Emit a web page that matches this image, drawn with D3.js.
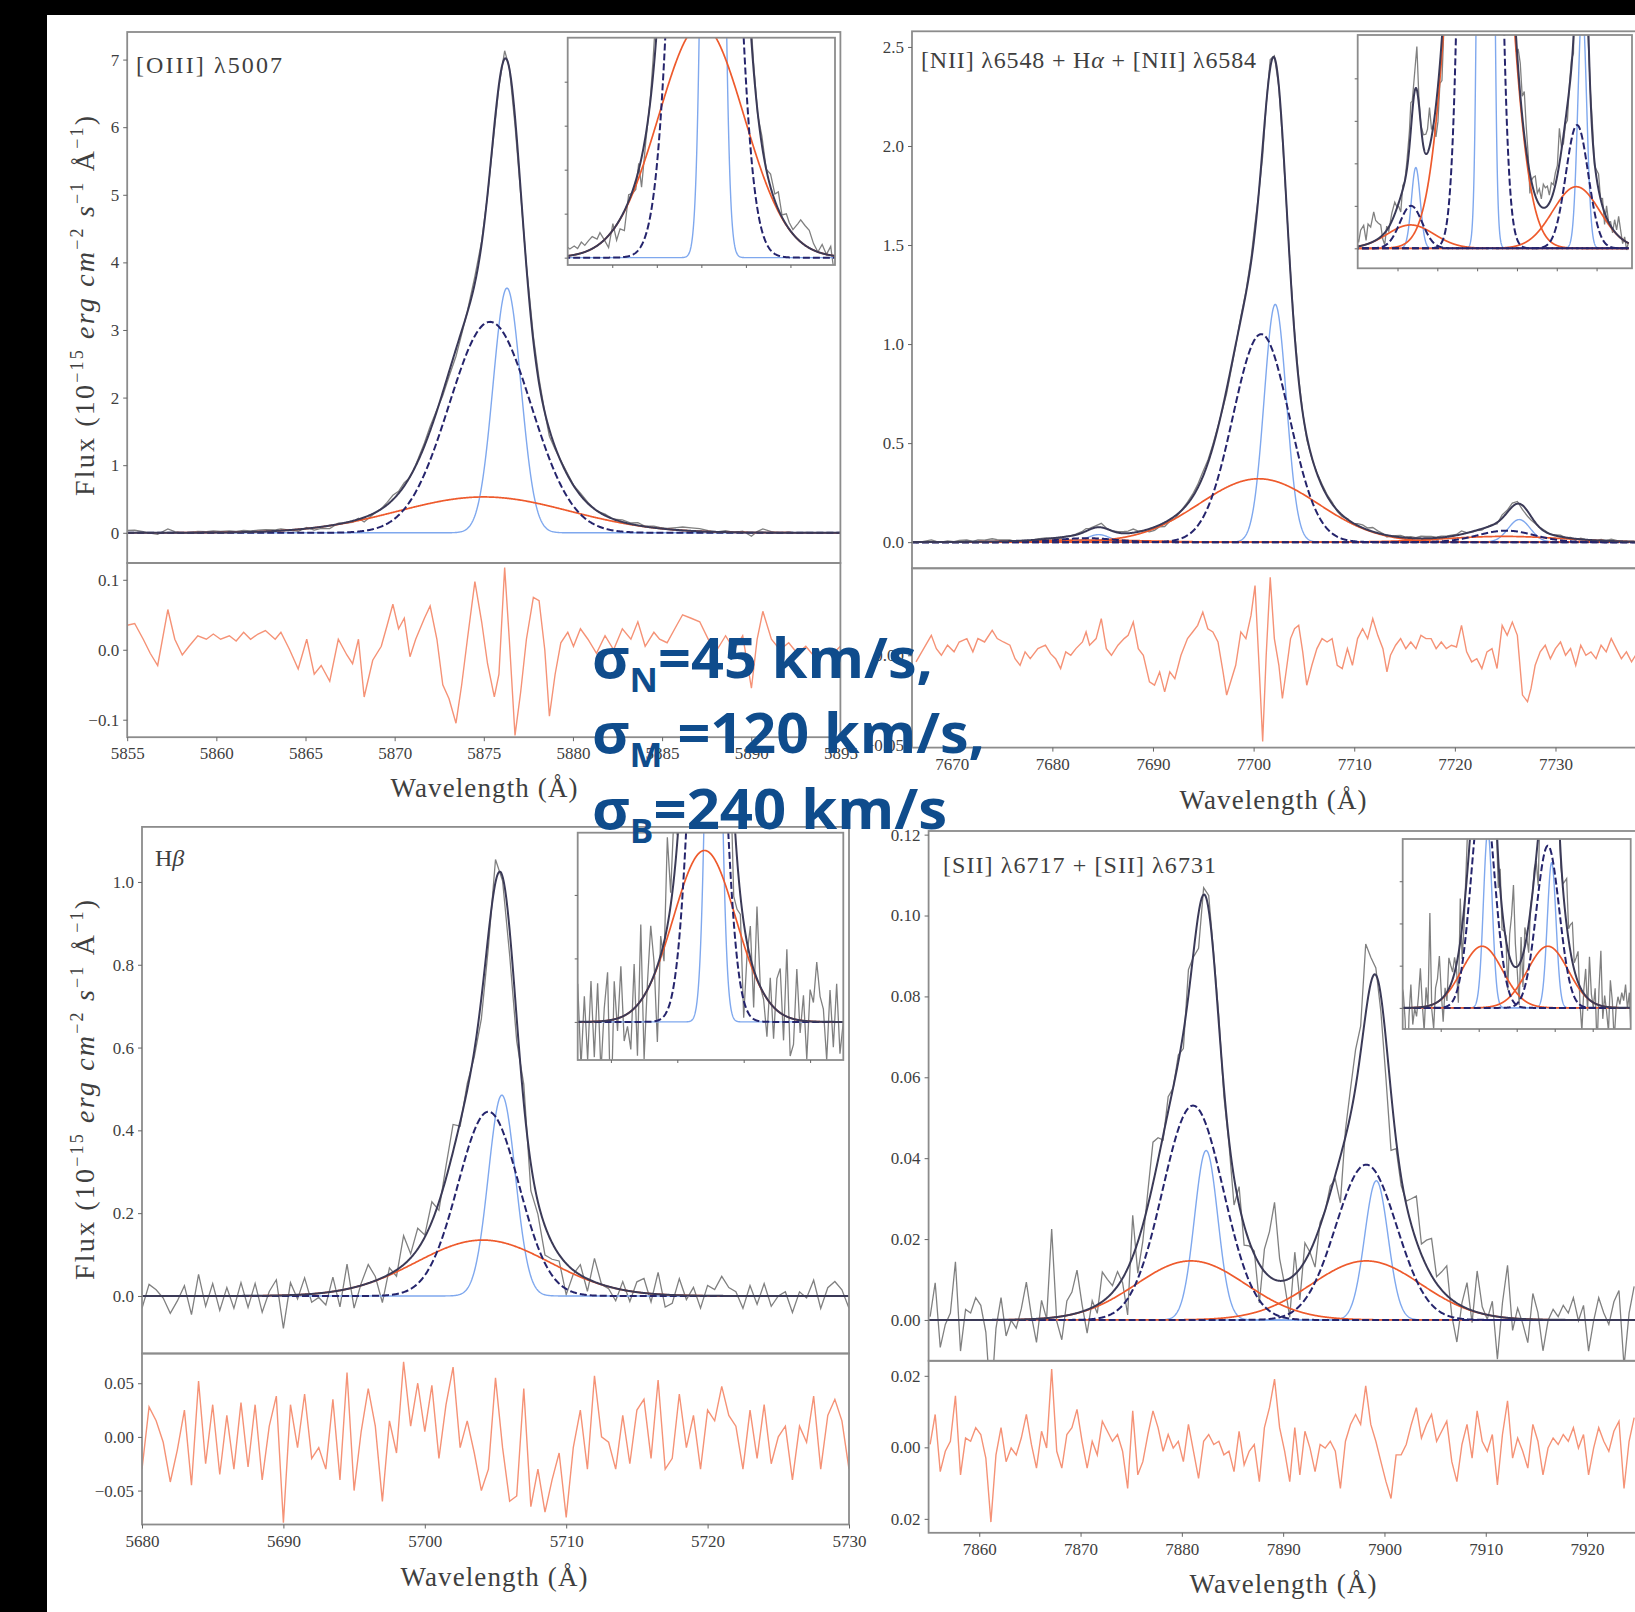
<!DOCTYPE html>
<html>
<head>
<meta charset="utf-8">
<script src="https://cdn.jsdelivr.net/npm/d3@7"></script>
<style>
body { margin: 0; background: #000; }
svg { display: block; }
</style>
</head>
<body>
<script>
// fitted gaussian components, each row: [centre (A), peak flux, sigma (A)]
var oiiiNarrow = [[5876.3, 3.62, 0.78]];
var oiiiMedium = [[5875.35, 3.12, 2.3]];
var oiiiBroad  = [[5875.0, 0.53, 4.8]];

var niiNarrow = [[7684.6, 0.038, 1.1], [7702.15, 1.20, 1.1], [7726.4, 0.114, 1.1]];
var niiMedium = [[7683.4, 0.020, 2.8], [7700.75, 1.05, 2.8], [7725.1, 0.058, 2.8]];
var niiBroad  = [[7683.3, 0.011, 5.9], [7700.5, 0.32, 5.9], [7724.9, 0.029, 5.9]];

var hbNarrow = [[5705.45, 0.485, 0.95]];
var hbMedium = [[5704.5, 0.445, 2.15]];
var hbBroad  = [[5704.1, 0.135, 4.7]];

var siiNarrow = [[7882.4, 0.0419, 1.15], [7899.2, 0.0344, 1.15]];
var siiMedium = [[7881.1, 0.053, 3.0], [7898.2, 0.0384, 3.0]];
var siiBroad  = [[7880.9, 0.0146, 5.4], [7898.2, 0.0146, 5.4]];

// residuals (data - model)
var oiiiResWave = [5855.00,5855.42,5855.90,5856.29,5856.71,5857.28,5857.67,5858.09,5858.47,5858.96,
  5859.44,5859.83,5860.24,5860.73,5861.11,5861.53,5861.92,5862.34,5862.75,5863.30,
  5863.62,5864.11,5864.59,5865.07,5865.49,5865.88,5866.36,5866.84,5867.32,5867.64,
  5867.97,5868.29,5868.77,5869.25,5869.58,5869.90,5870.22,5870.54,5870.86,5871.18,
  5871.67,5871.99,5872.37,5872.70,5873.05,5873.44,5873.76,5874.08,5874.50,5874.88,
  5875.21,5875.59,5875.85,5876.17,5876.43,5876.75,5877.07,5877.39,5877.78,5878.10,
  5878.42,5878.68,5879.00,5879.32,5879.71,5880.03,5880.42,5880.84,5881.32,5881.80,
  5882.28,5882.77,5883.25,5883.64,5884.05,5884.54,5884.86,5885.28,5885.82,5886.15,
  5886.63,5887.11,5887.59,5888.08,5888.56,5889.04,5889.52,5890.01,5890.33,5890.65,
  5891.13,5891.61,5892.10,5892.58,5893.06,5893.55,5894.03,5894.51,5895.00];
var oiiiResFlux = [0.035,0.0375,0.015,-0.005,-0.0225,0.0575,0.015,-0.0075,0.005,0.02,
  0.015,0.0225,0.015,0.02,0.0125,0.025,0.015,0.0225,0.0275,0.015,
  0.025,0,-0.0275,0.015,-0.035,-0.0225,-0.045,0.015,-0.0075,-0.02,
  0.015,-0.0675,-0.015,0.005,0.035,0.065,0.03,0.045,-0.01,0.015,
  0.045,0.0625,0.015,-0.05,-0.07,-0.105,-0.05,0.015,0.0975,0.04,
  -0.02,-0.0675,-0.035,0.1175,0.015,-0.1225,-0.06,0.015,0.075,0.07,
  0,-0.095,-0.035,0.01,0.025,0.005,0.03,0.015,-0.005,0.02,
  0,0.03,0.015,0.04,0.005,0.025,0.015,0.01,0.035,0.05,
  0.045,0.04,0.015,0,0.02,0,0.02,-0.055,0.015,0.055,
  0.015,0,0.01,-0.005,0.005,-0.01,0,-0.0075,0.005];

var niiResWave = [7666.45,7667.21,7667.97,7668.47,7668.97,7669.58,7670.23,7670.74,7671.50,7672.10,
  7672.60,7673.26,7674.02,7674.52,7675.13,7675.78,7676.29,7676.79,7677.29,7677.80,
  7678.56,7679.31,7679.82,7680.32,7680.82,7681.33,7681.83,7682.34,7682.99,7683.35,
  7683.70,7684.35,7684.86,7685.36,7685.87,7686.52,7687.13,7687.53,7688.04,7688.54,
  7689.04,7689.65,7690.15,7690.66,7691.16,7691.67,7692.17,7692.78,7693.43,7693.94,
  7694.44,7694.95,7695.45,7695.95,7696.46,7696.96,7697.32,7697.72,7698.22,7698.73,
  7699.23,7699.74,7700.14,7700.54,7700.90,7701.25,7701.65,7702.06,7702.51,7702.86,
  7703.27,7703.67,7704.07,7704.48,7704.88,7705.28,7705.79,7706.29,7706.80,7707.30,
  7707.80,7708.31,7708.81,7709.32,7709.82,7710.33,7710.83,7711.33,7711.84,7712.34,
  7712.85,7713.25,7713.60,7714.11,7714.61,7715.12,7715.62,7716.13,7716.63,7717.13,
  7717.64,7718.14,7718.65,7719.15,7719.66,7720.16,7720.66,7721.17,7721.67,7722.18,
  7722.68,7723.19,7723.69,7724.19,7724.70,7725.20,7725.71,7726.21,7726.72,7727.22,
  7727.57,7727.98,7728.48,7728.98,7729.49,7729.99,7730.50,7731.00,7731.50,7732.01,
  7732.51,7733.02,7733.52,7734.03,7734.53,7735.04,7735.54,7736.04,7736.55,7737.05,
  7737.56,7737.96];
var niiResFlux = [-0.0037,0.0037,0.0111,0.0037,0,0.0056,0.0019,0.0074,0.0093,0.0019,
  0.0093,0.0074,0.0139,0.0093,0.0074,0.0056,-0.0019,-0.0056,0.0019,-0.0019,
  0.0037,0.0056,0.0009,-0.0019,-0.0074,0.0019,0,0.0037,0.0074,0.013,
  0.0056,0.0093,0.0204,0.0037,0,0.0056,0.0093,0.0111,0.0185,0.0037,
  0,-0.0148,-0.0167,-0.0093,-0.0204,-0.0093,-0.013,0,0.0093,0.013,
  0.0167,0.0241,0.0148,0.013,0.0074,-0.0093,-0.0222,-0.0148,-0.0056,0.013,
  0.0093,0.0222,0.0389,-0.0056,-0.0481,0,0.0435,0.0093,-0.0056,-0.0241,
  -0.0074,0.0093,0.0148,0.0167,0.0019,-0.0167,-0.0056,0.0037,0.0093,0.0074,
  0.0093,-0.0056,-0.0074,0.0037,-0.0056,0.0093,0.0148,0.0093,0.0204,0.0111,
  0.0037,-0.0093,0,0.0056,0.0093,0.0037,0.0074,0.0037,0.0111,0.0093,
  0.0093,0.0037,0.0074,0.0037,0.0056,0.0046,0.0167,0.0019,-0.0037,-0.0019,
  -0.0074,0.0019,0.0037,-0.0074,0.0167,0.0111,0.0185,0.0111,-0.0222,-0.0259,
  -0.0185,-0.0056,0.0019,0.0056,-0.0019,0.0037,0.0074,0,0.0037,-0.0056,
  0.0056,0,0.0019,-0.0019,0.0056,0.0019,0.0093,0.0037,-0.0019,0.0019,
  -0.0037,0];

// these two are on a regular pixel grid: first wavelength and step
var hbResStart = 5680, hbResStep = 0.5;
var hbResFlux = [-0.03,0.028,0.015,-0.005,-0.042,-0.012,0.025,-0.045,0.052,-0.025,
  0.03,-0.035,0.02,-0.03,0.032,-0.028,0.03,-0.04,0.01,0.038,
  -0.08,0.03,-0.01,0.04,-0.02,-0.01,-0.03,0.035,-0.04,0.06,
  -0.05,0.005,0.045,0.01,-0.06,0.015,-0.015,0.07,0.01,0.05,
  0.005,0.048,-0.02,0.03,0.065,-0.01,0.015,-0.015,-0.05,-0.03,
  0.055,-0.01,-0.06,-0.055,0.045,-0.065,-0.03,-0.07,-0.04,-0.015,
  -0.075,-0.01,0.025,-0.03,0.057,0,-0.005,-0.03,0.02,-0.025,
  0.025,0.035,-0.02,0.053,-0.03,-0.02,0.04,-0.01,0.02,-0.03,
  0.025,0.015,0.047,0.02,0.01,-0.03,0.025,-0.02,0.03,-0.025,
  0,0.01,-0.04,0.01,-0.005,0.038,-0.03,0.02,0.035,0.015,
  -0.03];

var siiResStart = 7855.15, siiResStep = 0.5;
var siiResFlux = [0.0008,0.0092,-0.0068,-0.0011,0.0017,0.0144,-0.0077,0.0026,0.0017,0.0055,
  0.0036,-0.003,-0.0209,-0.0021,0.0055,-0.004,-0.0002,-0.0021,0.0026,0.0092,
  0.0008,-0.0058,0.0045,-0.0002,0.0219,-0.0011,-0.0058,0.0036,0.0055,0.0106,
  0.0017,-0.0058,0.0017,-0.0021,0.0073,0.0045,0.0017,0.0036,-0.0011,-0.0115,
  0.0102,-0.0077,-0.004,0.0036,0.0102,0.0055,-0.0011,0.0036,-0.0002,0.0017,
  -0.004,0.0064,-0.0011,-0.0087,0.0017,0.0036,0.0008,0.0017,-0.0021,-0.0011,
  -0.0068,0.0045,-0.0049,-0.0011,0.0008,-0.0096,0.0055,0.0111,0.0191,0.0055,
  -0.0011,-0.0096,0.0055,-0.0077,0.0045,-0.0002,-0.0068,0.0008,-0.0002,0.0017,
  -0.0011,-0.0115,0.0017,0.0064,0.0092,0.0064,0.0172,0.0064,0.0017,-0.004,
  -0.0096,-0.0143,-0.0021,-0.0021,0.0008,0.0064,0.0111,0.0026,0.0064,0.0092,
  0.0017,0.0045,0.0073,-0.004,-0.0096,0.0008,0.0064,-0.003,0.0102,0.0017,
  -0.0011,0.0036,-0.0105,0.0036,0.013,-0.003,0.0026,-0.0011,-0.0058,0.0064,
  0.0017,-0.0077,-0.0002,0.0026,0.0008,0.0036,0.0017,0.0055,-0.0002,0.0036,
  -0.0077,-0.0002,0.0055,0.0017,-0.0011,0.0045,0.0073,-0.0115,0.0017,0.0083];

// axis limits and ticks
var oiiiXDom = [5855, 5895], oiiiYDom = [-0.447, 7.408], oiiiResDom = [-0.125, 0.124];
var oiiiXTicks = [5855, 5860, 5865, 5870, 5875, 5880, 5885, 5890, 5895];
var oiiiYTicks = [0, 1, 2, 3, 4, 5, 6, 7];
var oiiiResTicks = [-0.1, 0, 0.1];
var oiiiInXDom = [5860, 5890], oiiiInYDom = [-0.0167, 0.5];
var oiiiInXTicks = [5865, 5870, 5875, 5880, 5885], oiiiInYTicks = [0, 0.1, 0.2, 0.3, 0.4];

var niiXDom = [7666.05, 7738.1], niiYDom = [-0.132, 2.579], niiResDom = [-0.0515, 0.0485];
var niiXTicks = [7670, 7680, 7690, 7700, 7710, 7720, 7730];
var niiYTicks = [0, 0.5, 1.0, 1.5, 2.0, 2.5];
var niiResTicks = [-0.05, 0];
var niiInXDom = [7670, 7738.9], niiInYDom = [-0.0094, 0.1004];
var niiInXTicks = [7680, 7690, 7700, 7710, 7720, 7730], niiInYTicks = [0, 0.02, 0.04, 0.06, 0.08];

var hbXDom = [5680, 5730], hbYDom = [-0.139, 1.133], hbResDom = [-0.0816, 0.0777];
var hbXTicks = [5680, 5690, 5700, 5710, 5720, 5730];
var hbYTicks = [0, 0.2, 0.4, 0.6, 0.8, 1.0];
var hbResTicks = [-0.05, 0, 0.05];
var hbInXDom = [5685, 5725], hbInYDom = [-0.030, 0.149];
var hbInXTicks = [5690, 5700, 5710, 5720], hbInYTicks = [0, 0.05, 0.1];

var siiXDom = [7855, 7926.5], siiYDom = [-0.0101, 0.1209], siiResDom = [-0.0239, 0.0242];
var siiXTicks = [7860, 7870, 7880, 7890, 7900, 7910, 7920];
var siiYTicks = [0, 0.02, 0.04, 0.06, 0.08, 0.10, 0.12];
var siiResTicks = [-0.02, 0, 0.02];
var siiInXDom = [7860, 7920], siiInYDom = [-0.005, 0.04];
var siiInXTicks = [7870, 7880, 7890, 7900, 7910], siiInYTicks = [0, 0.01, 0.02, 0.03];

var sigmaSubs = ["N", "M", "B"];
var sigmaRest = ["=45 km/s,", " =120 km/s,", "=240 km/s"];

// ---------------------------------------------------------------
var W = 1635, H = 1612;
var FONT = "'Liberation Serif', 'Times New Roman', serif";
var INK = "#3f3f3f";

var svg = d3.select("body").append("svg").attr("width", W).attr("height", H);
var defs = svg.append("defs");
svg.append("rect").attr("width", W).attr("height", H).attr("fill", "#000");
svg.append("rect").attr("x", 47).attr("y", 15).attr("width", W - 47).attr("height", H - 15).attr("fill", "#fff");

function clip(id, x0, y0, x1, y1) {
    defs.append("clipPath").attr("id", id).append("rect")
        .attr("x", x0).attr("y", y0).attr("width", x1 - x0).attr("height", y1 - y0);
    return "url(#" + id + ")";
}

function profile(comps) {
    return function (w) {
        var s = 0;
        comps.forEach(function (c) {
            var d = w - c[0];
            s += c[1] * Math.exp(-d * d / (2 * c[2] * c[2]));
        });
        return s;
    };
}

function frame(x0, y0, x1, y1) {
    svg.append("rect").attr("x", x0).attr("y", y0)
        .attr("width", x1 - x0).attr("height", y1 - y0)
        .attr("fill", "none").attr("stroke", "#8c8c8c").attr("stroke-width", 1.8);
}

function styleAxis(g, size) {
    g.attr("font-family", FONT).attr("font-size", size);
    g.select(".domain").remove();
    g.selectAll(".tick line").attr("stroke", "#666").attr("stroke-width", 1);
    g.selectAll(".tick text").attr("fill", INK);
}

function drawFit(g, x, y, grid, obs, p) {
    var line = d3.line().x(function (d) { return x(d[0]); }).y(function (d) { return y(d[1]); });
    g.append("path").datum(obs).attr("d", line)
        .attr("fill", "none").attr("stroke", "#808080").attr("stroke-width", 1.3);

    function comps(list, color, width, dash) {
        list.forEach(function (c) {
            var f = profile([c]);
            g.append("path").datum(grid.map(function (w) { return [w, f(w)]; }))
                .attr("d", line).attr("fill", "none")
                .attr("stroke", color).attr("stroke-width", width)
                .attr("stroke-dasharray", dash || null);
        });
    }
    comps(p.narrow, "#7fa8ee", 1.4);
    comps(p.broad, "#ee5a2c", 1.7);
    comps(p.medium, "#25246c", 2, "7,3");

    var tot = profile(p.narrow.concat(p.medium, p.broad));
    g.append("path").datum(grid.map(function (w) { return [w, tot(w)]; }))
        .attr("d", line).attr("fill", "none")
        .attr("stroke", "#3b3a57").attr("stroke-width", 2);
}

function drawPanel(p) {
    var b = p.box, ib = p.inBox;
    var x = d3.scaleLinear().domain(p.xDom).range([b.left, b.right]);
    var y = d3.scaleLinear().domain(p.yDom).range([b.mid, b.top]);
    var yr = d3.scaleLinear().domain(p.rDom).range([b.bottom, b.mid]);

    var total = profile(p.narrow.concat(p.medium, p.broad));
    var grid = d3.range(p.xDom[0], p.xDom[1] + 0.02, 0.04);
    var obs = p.resWave.map(function (w, i) { return [w, total(w) + p.resFlux[i]]; });

    var gMain = svg.append("g").attr("clip-path", clip(p.id + "m", b.left, b.top, b.right, b.mid));
    drawFit(gMain, x, y, grid, obs, p);

    var gRes = svg.append("g").attr("clip-path", clip(p.id + "r", b.left, b.mid, b.right, b.bottom));
    gRes.append("path")
        .datum(p.resWave.map(function (w, i) { return [w, p.resFlux[i]]; }))
        .attr("d", d3.line().x(function (d) { return x(d[0]); }).y(function (d) { return yr(d[1]); }))
        .attr("fill", "none").attr("stroke", "#f59276").attr("stroke-width", 1.4);

    frame(b.left, b.top, b.right, b.mid);
    frame(b.left, b.mid, b.right, b.bottom);

    var ay = svg.append("g").attr("transform", "translate(" + b.left + ",0)")
        .call(d3.axisLeft(y).tickValues(p.yTicks).tickFormat(p.yFmt).tickSize(4).tickPadding(4));
    styleAxis(ay, 17);
    var ar = svg.append("g").attr("transform", "translate(" + b.left + ",0)")
        .call(d3.axisLeft(yr).tickValues(p.rTicks).tickFormat(p.rFmt).tickSize(4).tickPadding(4));
    styleAxis(ar, 17);
    var ax = svg.append("g").attr("transform", "translate(0," + b.bottom + ")")
        .call(d3.axisBottom(x).tickValues(p.xTicks).tickFormat(d3.format("d")).tickSize(4).tickPadding(6));
    styleAxis(ax, 17);

    // inset zoom on the wings
    var ix = d3.scaleLinear().domain(p.inX).range([ib.left, ib.right]);
    var iy = d3.scaleLinear().domain(p.inY).range([ib.bottom, ib.top]);
    svg.append("rect").attr("x", ib.left).attr("y", ib.top)
        .attr("width", ib.right - ib.left).attr("height", ib.bottom - ib.top).attr("fill", "#fff");
    var gIn = svg.append("g").attr("clip-path", clip(p.id + "i", ib.left, ib.top, ib.right, ib.bottom));
    drawFit(gIn, ix, iy, grid, obs, p);
    frame(ib.left, ib.top, ib.right, ib.bottom);
    var iay = svg.append("g").attr("transform", "translate(" + ib.left + ",0)")
        .call(d3.axisLeft(iy).tickValues(p.inYTicks).tickFormat("").tickSize(3));
    styleAxis(iay, 10);
    var iax = svg.append("g").attr("transform", "translate(0," + ib.bottom + ")")
        .call(d3.axisBottom(ix).tickValues(p.inXTicks).tickFormat("").tickSize(3));
    styleAxis(iax, 10);

    // x label
    svg.append("text").attr("x", p.xLabel[0]).attr("y", p.xLabel[1])
        .attr("text-anchor", "middle").attr("font-family", FONT).attr("font-size", 27)
        .attr("fill", INK).attr("textLength", 187).attr("lengthAdjust", "spacing")
        .text("Wavelength (\u00c5)");
}

function grid(start, step, n) {
    return d3.range(n).map(function (i) { return +(start + i * step).toFixed(2); });
}

var panels = [
    { id: "oiii", narrow: oiiiNarrow, medium: oiiiMedium, broad: oiiiBroad,
      resWave: oiiiResWave, resFlux: oiiiResFlux,
      xDom: oiiiXDom, yDom: oiiiYDom, rDom: oiiiResDom,
      xTicks: oiiiXTicks, yTicks: oiiiYTicks, rTicks: oiiiResTicks,
      yFmt: d3.format("d"), rFmt: d3.format(".1f"),
      inX: oiiiInXDom, inY: oiiiInYDom, inXTicks: oiiiInXTicks, inYTicks: oiiiInYTicks,
      box: { left: 127.2, right: 840.4, top: 32, mid: 563, bottom: 737.2 },
      inBox: { left: 567.7, right: 835, top: 37.7, bottom: 265 },
      xLabel: [484, 797] },
    { id: "nii", narrow: niiNarrow, medium: niiMedium, broad: niiBroad,
      resWave: niiResWave, resFlux: niiResFlux,
      xDom: niiXDom, yDom: niiYDom, rDom: niiResDom,
      xTicks: niiXTicks, yTicks: niiYTicks, rTicks: niiResTicks,
      yFmt: d3.format(".1f"), rFmt: d3.format(".2f"),
      inX: niiInXDom, inY: niiInYDom, inXTicks: niiInXTicks, inYTicks: niiInYTicks,
      box: { left: 912, right: 1637, top: 31.3, mid: 568.3, bottom: 747.6 },
      inBox: { left: 1357.7, right: 1632, top: 35, bottom: 268.3 },
      xLabel: [1273, 809] },
    { id: "hb", narrow: hbNarrow, medium: hbMedium, broad: hbBroad,
      resWave: grid(hbResStart, hbResStep, hbResFlux.length), resFlux: hbResFlux,
      xDom: hbXDom, yDom: hbYDom, rDom: hbResDom,
      xTicks: hbXTicks, yTicks: hbYTicks, rTicks: hbResTicks,
      yFmt: d3.format(".1f"), rFmt: d3.format(".2f"),
      inX: hbInXDom, inY: hbInYDom, inXTicks: hbInXTicks, inYTicks: hbInYTicks,
      box: { left: 142, right: 849, top: 826.9, mid: 1353.5, bottom: 1524.5 },
      inBox: { left: 577.7, right: 843.3, top: 832.7, bottom: 1060 },
      xLabel: [494, 1586] },
    { id: "sii", narrow: siiNarrow, medium: siiMedium, broad: siiBroad,
      resWave: grid(siiResStart, siiResStep, siiResFlux.length), resFlux: siiResFlux,
      xDom: siiXDom, yDom: siiYDom, rDom: siiResDom,
      xTicks: siiXTicks, yTicks: siiYTicks, rTicks: siiResTicks,
      yFmt: d3.format(".2f"), rFmt: function (d) { return d3.format(".2f")(Math.abs(d)); },
      inX: siiInXDom, inY: siiInYDom, inXTicks: siiInXTicks, inYTicks: siiInYTicks,
      box: { left: 928.6, right: 1652.9, top: 831, mid: 1360.8, bottom: 1532.8 },
      inBox: { left: 1402.7, right: 1630.7, top: 839, bottom: 1029 },
      xLabel: [1283, 1593] }
];

panels.forEach(drawPanel);

// panel titles
function title(x, y, len, parts) {
    var t = svg.append("text").attr("x", x).attr("y", y)
        .attr("font-family", FONT).attr("font-size", 24).attr("fill", INK);
    if (len) t.attr("textLength", len).attr("lengthAdjust", "spacing");
    parts.forEach(function (pt) {
        t.append("tspan").attr("font-style", pt[1] ? "italic" : null).text(pt[0]);
    });
}
title(136, 73, 146, [["[OIII] \u03bb5007"]]);
title(921, 68, 335, [["[NII] \u03bb6548 + H"], ["\u03b1", 1], [" + [NII] \u03bb6584"]]);
title(155, 866, 0, [["H"], ["\u03b2", 1]]);
title(943, 873, 273, [["[SII] \u03bb6717 + [SII] \u03bb6731"]]);

// flux axis labels
function fluxLabel(cx, cy) {
    var t = svg.append("text")
        .attr("transform", "translate(" + cx + "," + cy + ") rotate(-90)")
        .attr("text-anchor", "middle").attr("font-family", FONT).attr("font-size", 28)
        .attr("fill", INK).attr("textLength", 380).attr("lengthAdjust", "spacing");
    var bits = [["Flux (10", 0, 0], ["\u221215", 1, 0], [" erg cm", 0, 1], ["\u22122", 1, 0],
                [" s", 0, 1], ["\u22121", 1, 0], [" \u00c5", 0, 0], ["\u22121", 1, 0], [")", 0, 0]];
    var up = false;
    bits.forEach(function (bt) {
        var s = t.append("tspan").text(bt[0]);
        if (bt[2]) s.attr("font-style", "italic");
        if (bt[1]) { s.attr("font-size", 18).attr("dy", -11); up = true; }
        else if (up) { s.attr("dy", 11); up = false; }
    });
}
fluxLabel(94, 306);
fluxLabel(94, 1090);

// velocity dispersion annotation
var sig = svg.append("g").attr("font-family", "'Open Sans', 'Noto Sans', sans-serif")
    .attr("font-weight", 700).attr("fill", "#0f4c8c");
var sigBase = [678, 753, 829], sigLen = [341, 393, 355];
sigmaSubs.forEach(function (s, i) {
    var t = sig.append("text").attr("x", 592).attr("y", sigBase[i]).attr("font-size", 56)
        .attr("textLength", sigLen[i]).attr("lengthAdjust", "spacingAndGlyphs");
    t.append("tspan").text("\u03c3");
    t.append("tspan").attr("font-size", 34).attr("dy", 14).text(s);
    t.append("tspan").attr("dy", -14).text(sigmaRest[i]);
});
</script>
</body>
</html>
